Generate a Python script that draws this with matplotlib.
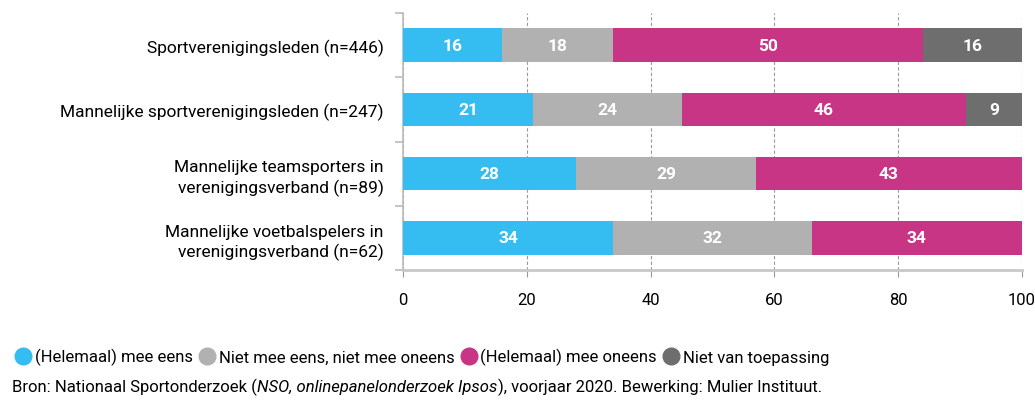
import numpy as np
import matplotlib.pyplot as plt
from matplotlib.lines import Line2D

# --- data ---
categories = [
    "Sportverenigingsleden (n=446)",
    "Mannelijke sportverenigingsleden (n=247)",
    "Mannelijke teamsporters in\nverenigingsverband (n=89)",
    "Mannelijke voetbalspelers in\nverenigingsverband (n=62)",
]
series_names = [
    "(Helemaal) mee eens",
    "Niet mee eens, niet mee oneens",
    "(Helemaal) mee oneens",
    "Niet van toepassing",
]
eens = [16, 21, 28, 34]
neutraal = [18, 24, 29, 32]
oneens = [50, 46, 43, 34]
nvt = [16, 9, 0, 0]
xticks = [0, 20, 40, 60, 80, 100]
source = ("Bron: Nationaal Sportonderzoek (", "NSO, onlinepanelonderzoek Ipsos",
          "), voorjaar 2020. Bewerking: Mulier Instituut.")

colors = ["#35BDF2", "#B1B1B1", "#C83584", "#6E6E6E"]

plt.rcParams['font.family'] = ['Roboto', 'DejaVu Sans']

fig = plt.figure(figsize=(10.35, 4.02), dpi=100)
ax = fig.add_axes([0.3894, 0.326, 0.598, 0.639])

y = np.arange(len(categories))
left = np.zeros(len(categories))
for vals, col in zip([eens, neutraal, oneens, nvt], colors):
    vals = np.array(vals, dtype=float)
    ax.barh(y, vals, left=left, height=0.52, color=col, zorder=3)
    for yi, (l, v) in enumerate(zip(left, vals)):
        if v > 0:
            ax.text(l + v / 2, yi, f"{int(v)}", ha="center", va="center",
                    color="white", fontsize=12.5, fontweight="bold", zorder=4)
    left += vals

ax.set_xlim(0, 100)
ax.set_ylim(len(categories) - 0.5, -0.5)
ax.set_xticks(xticks)
ax.set_xticklabels([str(t) for t in xticks], fontsize=12)
ax.set_yticks(y)
ax.set_yticklabels(categories, fontsize=12.5, linespacing=1.3)
ax.tick_params(axis="y", length=0, pad=14)
ax.tick_params(axis="x", length=5, color="#999999", pad=11)
# category boundary ticks on the y axis
ax.set_yticks(np.arange(-0.5, len(categories)), minor=True)
ax.tick_params(axis="y", which="minor", length=6, color="#bbbbbb", width=1.2)

ax.grid(axis="x", linestyle=(0, (3, 2)), color="#999999", linewidth=0.8, zorder=0)
for s in ["top", "right"]:
    ax.spines[s].set_visible(False)
ax.spines["left"].set_color("#bbbbbb")
ax.spines["left"].set_linewidth(1.2)
ax.spines["bottom"].set_color("#c8c8c8")
ax.spines["bottom"].set_linewidth(2)

# legend
handles = [Line2D([0], [0], marker="o", linestyle="", markersize=12,
                  markerfacecolor=c, markeredgecolor=c) for c in colors]
fig.legend(handles, series_names, loc="center left", bbox_to_anchor=(-0.001, 0.11),
           ncol=4, frameon=False, fontsize=12, handletextpad=0.15,
           columnspacing=0.3, handlelength=1.1)

# source line
t1 = fig.text(0.012, 0.037, source[0], fontsize=12, va="center")
fig.canvas.draw()
r = fig.canvas.get_renderer()
bb = t1.get_window_extent(r)
t2 = fig.text(bb.x1 / fig.bbox.width, 0.037, source[1], fontsize=12,
              va="center", style="italic")
bb2 = t2.get_window_extent(r)
fig.text(bb2.x1 / fig.bbox.width, 0.037, source[2], fontsize=12, va="center")

fig.savefig("out.png", dpi=100)
